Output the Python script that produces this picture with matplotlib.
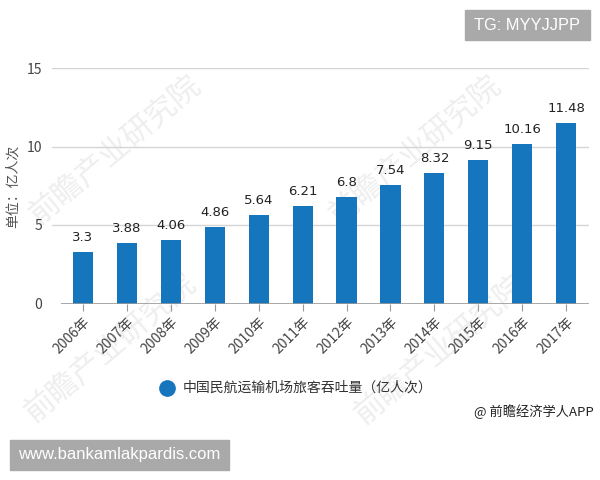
import matplotlib
matplotlib.use("Agg")
import matplotlib.pyplot as plt
from matplotlib.patches import Rectangle

plt.rcParams['font.family'] = ['Noto Sans CJK SC', 'DejaVu Sans']

years = ['2006年','2007年','2008年','2009年','2010年','2011年','2012年','2013年','2014年','2015年','2016年','2017年']
values = [3.3, 3.88, 4.06, 4.86, 5.64, 6.21, 6.8, 7.54, 8.32, 9.15, 10.16, 11.48]
labels = ['3.3','3.88','4.06','4.86','5.64','6.21','6.8','7.54','8.32','9.15','10.16','11.48']
yticks = [0, 5, 10, 15]
series_name = '中国民航运输机场旅客吞吐量（亿人次）'
y_title = '单位：亿人次'
BLUE = '#1575BD'

W, H = 600, 480
fig = plt.figure(figsize=(6, 4.8), dpi=100)
L, R, T, B = 52, 589, 68, 303.5
ax = fig.add_axes([L/W, 1-B/H, (R-L)/W, (B-T)/H])
ax.patch.set_alpha(0)
x = list(range(len(years)))
ax.bar(x, values, width=0.46, color=BLUE, zorder=3)
ax.set_xlim(-0.706, 11.52)
ax.set_ylim(0, 15)
ax.set_yticks(yticks)
ax.set_xticks(x)
ax.set_xticklabels(years, rotation=45, ha='right', rotation_mode='anchor', fontsize=10, color='#444444')
ax.tick_params(axis='x', length=5, width=0.8, color='#999999', pad=3)
ax.tick_params(axis='y', length=0, pad=7, labelsize=10, labelcolor='#444444')
for s in ax.spines.values():
    s.set_visible(False)
for v in yticks[1:]:
    ax.axhline(v, color='#D5D5D5', lw=1, zorder=1)
ax.hlines(0, -0.5, 11.52, color='#999999', lw=1.2, zorder=4)
for i, (v, t) in enumerate(zip(values, labels)):
    ax.text(i, v + 0.5, t, ha='center', va='bottom', fontsize=9.5, color='#222222', zorder=5,
            family='DejaVu Sans')

fig.text(13/W, 1-186/H, y_title, rotation=90, ha='center', va='center', fontsize=10, color='#555555')

# legend
fig.add_artist(plt.Line2D([167/W], [1-388/H], marker='o', ms=11, color=BLUE, ls='none'))
fig.text(183/W, 1-388/H, series_name, ha='left', va='center', fontsize=10, color='#333333')
fig.text(594/W, 1-412/H, '@ 前瞻经济学人APP', ha='right', va='center', fontsize=9.5, color='#222222')

# watermarks, behind the chart
for (wx, wy) in [(115, 150), (415, 150), (110, 348), (440, 350)]:
    fig.text(wx/W, 1-wy/H, '前瞻产业研究院', rotation=40, ha='center', va='center', fontsize=22,
             color='#EEEEEE', zorder=-1)

# overlay boxes
fig.add_artist(Rectangle((465/W, 1-40/H), 125/W, 30/H, transform=fig.transFigure, color='#A9A9A9'))
fig.text(527.5/W, 1-25/H, 'TG: MYYJJPP', ha='center', va='center', fontsize=11.8, color='white', family='Liberation Sans')
fig.add_artist(Rectangle((10/W, 1-470/H), 219/W, 30/H, transform=fig.transFigure, color='#A9A9A9'))
fig.text(119.5/W, 1-455/H, 'www.bankamlakpardis.com', ha='center', va='center', fontsize=12, color='white', family='Liberation Sans')

fig.savefig('out.png', dpi=100)
